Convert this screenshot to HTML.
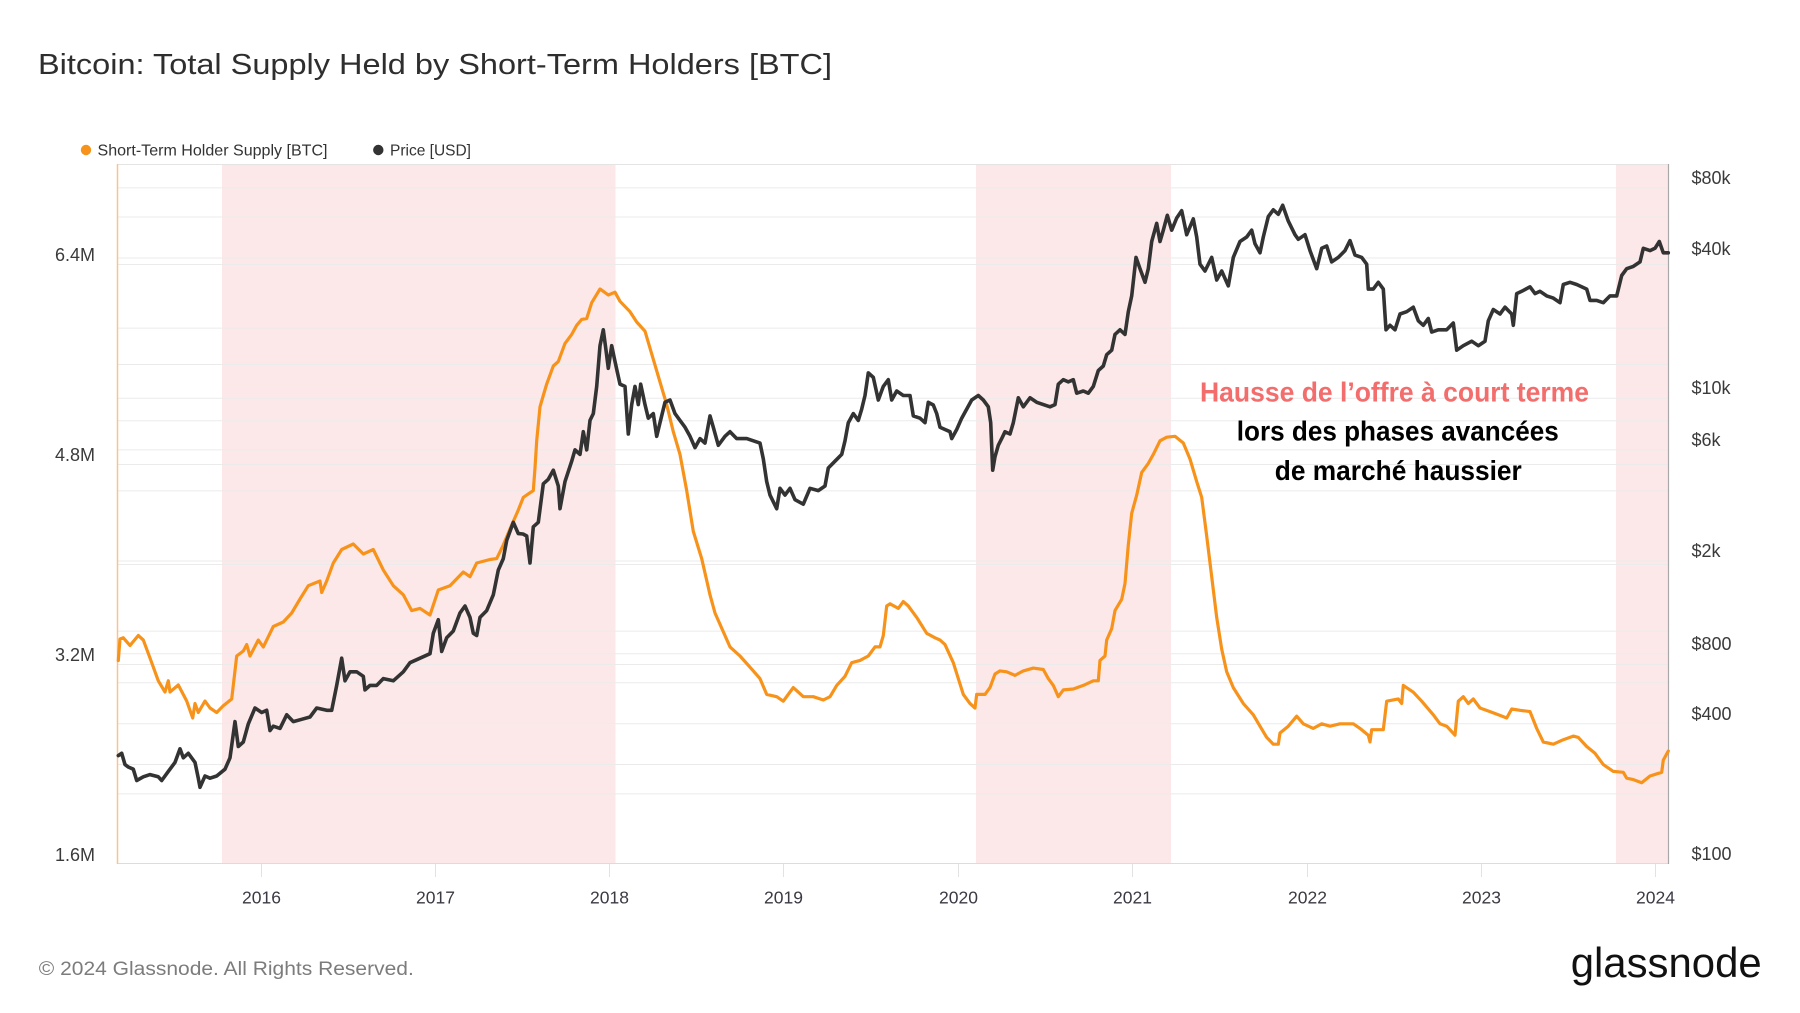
<!DOCTYPE html>
<html>
<head>
<meta charset="utf-8">
<style>
  html,body{margin:0;padding:0;background:#fff;}
  svg{display:block;}
  text{font-family:"Liberation Sans",Arial,sans-serif;}
</style>
</head>
<body>
<svg width="1800" height="1013" viewBox="0 0 1800 1013" xmlns="http://www.w3.org/2000/svg">
  <rect x="0" y="0" width="1800" height="1013" fill="#ffffff"/>

  <!-- Title -->
  <text x="38" y="74" font-size="29" fill="#2e2e2e" textLength="794" lengthAdjust="spacingAndGlyphs">Bitcoin: Total Supply Held by Short-Term Holders [BTC]</text>

  <!-- Legend -->
  <circle cx="86" cy="150" r="5.2" fill="#f7931a"/>
  <text x="97.5" y="155.7" font-size="16" fill="#333" textLength="230" lengthAdjust="spacingAndGlyphs">Short-Term Holder Supply [BTC]</text>
  <circle cx="378.3" cy="150" r="5.2" fill="#333"/>
  <text x="390" y="155.7" font-size="16" fill="#333" textLength="81" lengthAdjust="spacingAndGlyphs">Price [USD]</text>

  <!-- Shaded regions -->
  <rect x="222" y="164" width="393.5" height="699" fill="#fde8e9"/>
  <rect x="976" y="164" width="195" height="699" fill="#fde8e9"/>
  <rect x="1616" y="164" width="52.5" height="699" fill="#fde8e9"/>

  <!-- Grid lines (left linear) -->
  <g stroke="#ebebeb" stroke-width="1">
    <line x1="118" x2="1668" y1="264.5" y2="264.5"/>
    <line x1="118" x2="1668" y1="364.5" y2="364.5"/>
    <line x1="118" x2="1668" y1="464.5" y2="464.5"/>
    <line x1="118" x2="1668" y1="564.5" y2="564.5"/>
    <line x1="118" x2="1668" y1="664.5" y2="664.5"/>
    <line x1="118" x2="1668" y1="764.5" y2="764.5"/>
    <!-- right log grid -->
    <line x1="118" x2="1668" y1="793.9" y2="793.9"/>
    <line x1="118" x2="1668" y1="723.8" y2="723.8"/>
    <line x1="118" x2="1668" y1="682.8" y2="682.8"/>
    <line x1="118" x2="1668" y1="653.7" y2="653.7"/>
    <line x1="118" x2="1668" y1="631.1" y2="631.1"/>
    <line x1="118" x2="1668" y1="561.0" y2="561.0"/>
    <line x1="118" x2="1668" y1="490.9" y2="490.9"/>
    <line x1="118" x2="1668" y1="449.9" y2="449.9"/>
    <line x1="118" x2="1668" y1="420.8" y2="420.8"/>
    <line x1="118" x2="1668" y1="398.2" y2="398.2"/>
    <line x1="118" x2="1668" y1="328.1" y2="328.1"/>
    <line x1="118" x2="1668" y1="258.0" y2="258.0"/>
    <line x1="118" x2="1668" y1="217.0" y2="217.0"/>
    <line x1="118" x2="1668" y1="187.9" y2="187.9"/>
  </g>

  <!-- Borders -->
  <line x1="117" x2="1669" y1="164.5" y2="164.5" stroke="#e4e4e4" stroke-width="1"/>
  <line x1="117" x2="1669" y1="863.5" y2="863.5" stroke="#dcdcdc" stroke-width="1"/>
  <line x1="117.5" x2="117.5" y1="164" y2="864" stroke="#f9c48c" stroke-width="1.5"/>
  <line x1="1668.5" x2="1668.5" y1="164" y2="864" stroke="#a8a8a8" stroke-width="1.2"/>

  <!-- Year ticks -->
  <g stroke="#e2e2e2" stroke-width="1">
    <line x1="261.5" x2="261.5" y1="864" y2="877"/>
    <line x1="435.5" x2="435.5" y1="864" y2="877"/>
    <line x1="609.5" x2="609.5" y1="864" y2="877"/>
    <line x1="783.5" x2="783.5" y1="864" y2="877"/>
    <line x1="958.5" x2="958.5" y1="864" y2="877"/>
    <line x1="1132.5" x2="1132.5" y1="864" y2="877"/>
    <line x1="1307.5" x2="1307.5" y1="864" y2="877"/>
    <line x1="1481.5" x2="1481.5" y1="864" y2="877"/>
    <line x1="1655.5" x2="1655.5" y1="864" y2="877"/>
  </g>

  <!-- Year labels -->
  <g font-size="17.5" fill="#3a3a44" text-anchor="middle">
    <text x="261.5" y="903.5">2016</text>
    <text x="435.5" y="903.5">2017</text>
    <text x="609.5" y="903.5">2018</text>
    <text x="783.5" y="903.5">2019</text>
    <text x="958.5" y="903.5">2020</text>
    <text x="1132.5" y="903.5">2021</text>
    <text x="1307.5" y="903.5">2022</text>
    <text x="1481.5" y="903.5">2023</text>
    <text x="1655.5" y="903.5">2024</text>
  </g>

  <!-- Left axis labels -->
  <g font-size="18" fill="#3a3a3a" text-anchor="end">
    <text x="95" y="261">6.4M</text>
    <text x="95" y="461">4.8M</text>
    <text x="95" y="661">3.2M</text>
    <text x="95" y="861">1.6M</text>
  </g>

  <!-- Right axis labels -->
  <g font-size="18" fill="#3a3a3a">
    <text x="1691.5" y="184">$80k</text>
    <text x="1691.5" y="255">$40k</text>
    <text x="1691.5" y="394">$10k</text>
    <text x="1691.5" y="446">$6k</text>
    <text x="1691.5" y="557">$2k</text>
    <text x="1691.5" y="650">$800</text>
    <text x="1691.5" y="720">$400</text>
    <text x="1691.5" y="860">$100</text>
  </g>

  <!-- Orange series: STH supply -->
  <polyline fill="none" stroke="#f7931a" stroke-width="3.2" stroke-linejoin="round" stroke-linecap="round" points="
118.3,660.5 120,639 123.3,637.8 130,645.5 138.3,635.5 143.3,640 150,658 158.3,680.8 165,692 168.3,680.8 170,692 178.3,685 186.7,701 192.7,718 195,703.5 198.3,712.5 205,701 210,708 216.7,712.5 223.3,705.8 231.7,699 236.7,656 243.3,651 246.7,644.6 250,656 258.3,640 263.3,647 273.3,626.5 283.3,622 291.7,613 300,599 308.3,585.7 320,581 321.7,592.5 326.7,581 333.3,563 341.7,549.5 353.3,544 363.3,554 373.3,549.5 383.3,570 393.3,585.7 403.3,594.8 411.7,610.6 420,608.4 430,615 438.3,590 450,585.7 463.3,572 470,576.7 476.7,563 490,559.5 496.7,558.6 503.3,545 510,529 518.3,510 523.3,497.4 526.7,495 533.3,490.6 535,468 536.7,440.8 540,406.8 543.3,395.5 546.7,384 553.3,366 558.3,361.5 565,343.4 571.7,334.4 576.7,325.3 581.7,319.4 586.7,318.5 591.7,302.7 600,289 603.3,291.3 608.3,295 615,292.2 620,301.3 630,311.7 636.7,322 645,331.2 653.3,359.3 660,382 666.7,404.6 673.3,431.7 680,454.4 686.7,490.6 693.3,531.4 701.7,558.6 710,594.8 715,613 730,646.9 740,656 750,667.2 760,678.6 766.7,694.4 776.7,696.7 783.3,701.2 790,692 793.3,687.6 803.3,696.7 813.3,696.7 823.3,700 830,696.7 836.7,685.4 845,676.3 851.7,662.7 860,660.4 868.3,656 875,646.9 880,646.9 883.3,635.5 886.7,606 890,603.8 898.3,608.4 903.3,601.6 908.3,606 916.7,617.4 926.7,633.3 935,637.8 940,640 945,644.6 953.3,662.7 963.3,694.4 970,703.5 975,708 976.7,694.4 985,694.4 990,687.6 995,674 1000,670.9 1006.7,671.8 1015,675.4 1023.3,670.9 1033.3,668.1 1043.3,669.5 1048.3,678.6 1053.3,685.4 1058.3,696.7 1063.3,689.9 1073.3,689 1083.3,685.4 1093.3,680.8 1098.3,680.8 1100,660.4 1105,656 1106.7,640 1111.7,628.7 1115,610.6 1121.7,599.3 1125,583.5 1128.3,545 1131.7,513.3 1136.7,495.1 1141.7,472.5 1148.3,463.4 1153.3,454.4 1160,440.8 1166.7,437.2 1175,436.3 1183.3,443 1190,459 1196.7,481.6 1201.7,497.4 1206.7,536 1211.7,576.7 1216.7,617.4 1221.7,649.1 1226.7,671.8 1233.3,687.6 1243.3,703.5 1253.3,714.8 1260,726.2 1266.7,737.4 1273.3,744.2 1278.3,744.2 1280,733 1288.3,726.2 1296.7,716.2 1303.3,723.8 1313.3,728.4 1321.7,723.8 1330,726.2 1340,723.8 1353.3,723.8 1360,728.4 1368.3,735.2 1370,742 1371.7,729.7 1383.3,729.7 1386.7,701.2 1398.3,699 1401.7,703.5 1403.3,685.4 1413.3,692.2 1421.7,701.2 1433.3,714.8 1440,723.8 1446.7,726.2 1455,735.2 1458.3,701.2 1463.3,696.7 1468.3,703.5 1473.3,699 1480,708 1490,711.6 1498.3,714.8 1506.7,718 1511.7,709 1520,710.3 1530,711.6 1536.7,728.4 1543.3,742 1553.3,744.2 1563.3,739.7 1573.3,736.1 1578.3,737.4 1586.7,746.5 1595,753.3 1603.3,764.6 1613.3,771.4 1623.3,772.3 1626.7,778.2 1633.3,779.6 1641.7,782.7 1650,776 1661.7,772.3 1663.3,760.1 1668.3,751"/>

  <!-- Black series: Price -->
  <polyline fill="none" stroke="#333333" stroke-width="3.6" stroke-linejoin="round" stroke-linecap="round" points="
118.3,755.6 121.7,753.3 125,764.6 128.3,767 133.3,769.2 136.7,780.5 143.3,776.8 150,774.6 158.3,776.8 161.7,780.5 168.3,771.4 175,762.4 180,748.8 183.3,757.8 188.3,753.3 195,762.4 198.3,778.2 200,787.3 205,776 210,778.2 216.7,776 225,769.2 230,757.8 235,721.6 238.3,746.5 243.3,742 248.3,723.9 255,708 261.7,712.5 266.7,710.3 270,730.6 273.3,726.2 280,728.4 286.7,714.8 293.3,721.6 301.7,719.3 310,717 316.7,708 326.7,710.3 331.7,710.3 336.7,685.4 341.7,658.2 345,680.8 350,671.8 356.7,671.8 363.3,676.3 365,689.9 370,685.4 376.7,685.4 383.3,678.6 393.3,680.8 403.3,671.8 410,662.7 420,658.2 430,653.7 433.3,633.3 438.3,619.7 441.7,651.4 446.7,637.8 453.3,631 460,612.9 465,606 470,617.4 473.3,633.3 476.7,635.5 480,617.4 486.7,610.6 493.3,594.8 498.3,570 503.3,558.6 506.7,540.4 513.3,522.3 518.3,533.6 523,534 526.7,536 530,563 533.3,526.8 538.3,522.3 543.3,483.8 548.3,479.3 553.3,470.2 558.3,486 560,508.7 565,481.6 571.7,461.2 575,449.9 580,454.4 583.3,431.7 586.7,449.9 590,420.4 593.3,413.6 596.7,386.4 600,345.7 603.3,329.8 606,350.2 608.3,368.3 611.7,345.7 615,361.5 620,384.2 625,386.4 628.3,434 631.7,404.6 635,386.4 638.3,404.6 640.7,384.2 645,404.6 648.3,418.2 653.3,413.6 656.7,436.3 660,422.7 665,402.3 670,400 675,413.6 680,420.4 685,427.2 690,436.3 695,447.6 700,438.6 705,443.1 710,415.9 713.3,427.2 718.3,445.3 725,436.3 730,431.7 736.7,438.6 746.7,438.6 760,443.1 763.3,458.9 766.7,481.6 770,495.1 776.7,508.7 780,488.3 785,495.1 790,488.3 795,499.7 803.3,504.2 810,488.3 818.3,490.6 825,486 828.3,468 835,461.2 841.7,454.4 845,440.8 848.3,422.7 853.3,413.6 858.3,420.4 861.7,409.1 865,395.5 868.3,372.9 873.3,377.4 878.3,400 883.3,386.4 888.3,379.7 891.7,400 896.7,391 903.3,395.5 910,395.5 913.3,415.9 920,418.2 925,422.7 928.3,402.3 933.3,405 936.7,413.6 940,427.2 945,429.5 950,431.7 951.7,438.6 956.7,429.5 961.7,418.2 966.7,409.1 971.7,400 978.3,395.5 983.3,400 988.3,406.8 990.7,422.7 992.7,470.2 995,456.7 998.3,445.3 1001.7,438.6 1005,431.7 1010,434 1013.3,422.7 1018.3,397.8 1023.3,406.8 1030,397.8 1036.7,402.3 1043.3,404.6 1050,406.8 1055,404.6 1058.3,384.2 1063.3,379.7 1068.3,381.9 1073.3,379.7 1076.7,393.2 1083.3,391 1088.3,393.2 1093.3,386.4 1098.3,370.6 1103.3,366 1106.7,354.7 1111.7,350.2 1115,334.4 1120,329.8 1125,334.4 1128.3,311.7 1131.7,295.9 1136,257.4 1140,268.7 1145,282.3 1148.3,268.7 1151.7,241.5 1156.7,223.4 1160,241.5 1163.3,230.2 1167.3,215.3 1171.7,230.2 1176.7,218 1181.7,210.7 1186.7,234.7 1193.3,218.9 1196.7,237 1200,264.2 1205,271 1211.7,257.4 1216.7,280 1221.7,271 1228.3,285.9 1233.3,257.4 1240,241.5 1246.7,237 1251.7,230.2 1255,243.8 1260,252.8 1263.3,237 1268.3,216.6 1273.3,209.8 1278.3,214.3 1282.7,205.3 1288.3,221.1 1295,234.7 1298.3,239.3 1305,234.7 1310,250.6 1316.7,268.7 1321.7,248.3 1326.7,246 1331.7,261.9 1338.3,257.4 1345,250.6 1350,240.6 1355,255.1 1361.7,257.4 1366.7,264.2 1368.3,289.1 1373.3,289.1 1378.3,282.3 1383.3,289.1 1386,329.8 1390,325.3 1395,329.8 1400,314 1406.7,311.7 1413.3,307.2 1418.3,320.8 1423.3,325.3 1428.3,318.5 1431.7,332.1 1438.3,329.8 1446.7,329.8 1453.3,323 1456.7,350.2 1463.3,345.7 1471.7,341.2 1478.3,345.7 1485,341.2 1488.3,320.8 1493.3,309.5 1500,314 1505,307.2 1511.7,314 1513.3,325.3 1516.7,293.6 1521.7,291.3 1530,286.8 1535,293.6 1540,291.3 1546.7,295.9 1553.3,298.1 1560,302.7 1563.3,284.5 1570,282.3 1576.7,284.5 1586.7,289.1 1590,300.4 1596.7,300.4 1603.3,302.7 1610,295.9 1616.7,295.9 1621.7,275.5 1626.7,268.7 1633.3,266.4 1640,261.9 1643.3,248.3 1650,250.6 1655,248.3 1659.3,241.5 1663.3,252.8 1668.3,252.8"/>

  <!-- Annotation -->
  <text x="1394.5" y="401.7" font-size="28" font-weight="bold" fill="#f46d6d" text-anchor="middle" textLength="389" lengthAdjust="spacingAndGlyphs">Hausse de l’offre à court terme</text>
  <text x="1397.8" y="440.7" font-size="28" font-weight="bold" fill="#000" text-anchor="middle" textLength="322" lengthAdjust="spacingAndGlyphs">lors des phases avancées</text>
  <text x="1398.3" y="480" font-size="28" font-weight="bold" fill="#000" text-anchor="middle" textLength="247" lengthAdjust="spacingAndGlyphs">de marché haussier</text>

  <!-- Footer -->
  <text x="38.8" y="975" font-size="19" fill="#7c7c7c" textLength="375" lengthAdjust="spacingAndGlyphs">© 2024 Glassnode. All Rights Reserved.</text>
  <text x="1570.7" y="977" font-size="42" fill="#111" textLength="191" lengthAdjust="spacingAndGlyphs">glassnode</text>
</svg>
</body>
</html>
